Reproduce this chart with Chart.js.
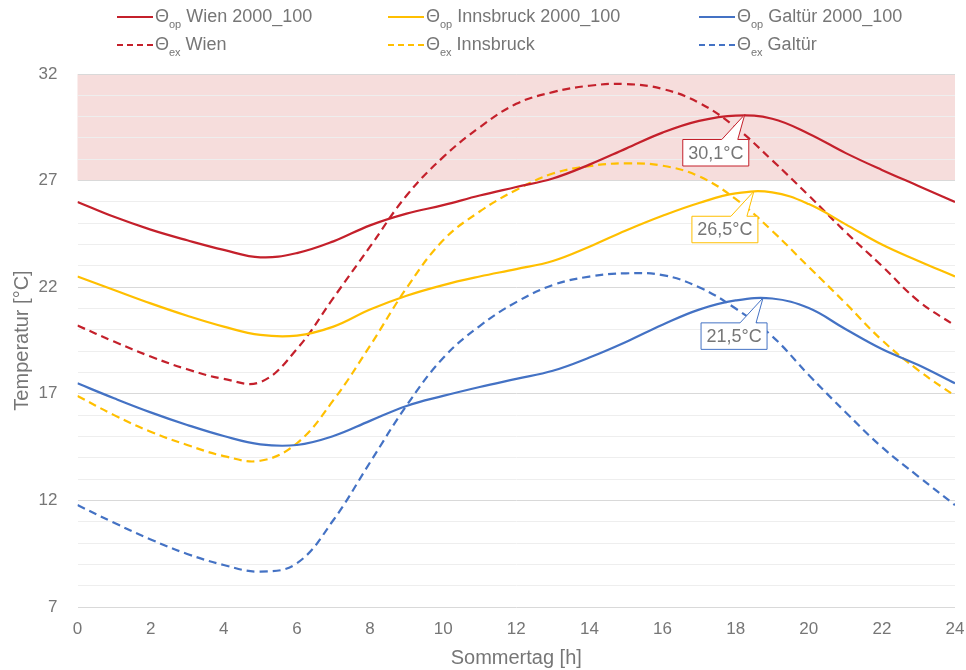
<!DOCTYPE html>
<html>
<head>
<meta charset="utf-8">
<script src="https://cdn.jsdelivr.net/npm/chart.js@4.4.1/dist/chart.umd.min.js"></script>
<style>
  html, body { margin: 0; padding: 0; background: #fff; }
  canvas { display: block; }
</style>
</head>
<body>
<canvas id="chart" width="966" height="670"></canvas>
<script>
// Hourly values (summer day, 0–24 h)
const HOURS = [0, 1, 2, 3, 4, 5, 6, 7, 8, 9, 10, 11, 12, 13, 14, 15, 16, 17, 18, 19, 20, 21, 22, 23, 24];

const WIEN_OP = [26.0, 25.3, 24.7, 24.2, 23.75, 23.4, 23.6, 24.15, 24.9, 25.45, 25.85, 26.3, 26.7, 27.1, 27.75, 28.5, 29.25, 29.8, 30.05, 29.9, 29.2, 28.3, 27.5, 26.75, 26.0];
const INNS_OP = [22.5, 21.87, 21.24, 20.66, 20.15, 19.76, 19.73, 20.15, 20.95, 21.6, 22.1, 22.5, 22.85, 23.23, 23.9, 24.66, 25.35, 25.95, 26.4, 26.45, 25.9, 24.96, 24.0, 23.23, 22.5];
const GALT_OP = [17.49, 16.79, 16.13, 15.54, 15.02, 14.63, 14.6, 15.02, 15.73, 16.43, 16.9, 17.32, 17.7, 18.08, 18.7, 19.43, 20.24, 20.95, 21.38, 21.47, 21.02, 20.04, 19.1, 18.35, 17.49];
const WIEN_EX = [20.2, 19.45, 18.75, 18.15, 17.7, 17.55, 19.1, 21.5, 23.9, 26.3, 28.1, 29.5, 30.6, 31.15, 31.45, 31.53, 31.3, 30.65, 29.5, 27.95, 26.3, 24.6, 23.0, 21.35, 20.2];
const INNS_EX = [16.9, 16.0, 15.22, 14.6, 14.08, 13.86, 14.68, 16.7, 19.25, 21.96, 24.2, 25.55, 26.56, 27.33, 27.68, 27.81, 27.7, 27.2, 26.14, 24.64, 22.95, 21.26, 19.52, 18.1, 16.9];
const GALT_EX = [11.78, 10.95, 10.17, 9.49, 8.97, 8.66, 9.05, 11.08, 13.78, 16.45, 18.68, 20.18, 21.3, 22.1, 22.5, 22.65, 22.57, 22.0, 21.0, 19.7, 17.88, 16.15, 14.5, 13.12, 11.78];

const SERIES_SUB = ['op', 'op', 'op', 'ex', 'ex', 'ex'];
const SERIES_NAME = [' Wien 2000_100', ' Innsbruck 2000_100', ' Galtür 2000_100', ' Wien', ' Innsbruck', ' Galtür'];

const Y_LABELS = [7, 12, 17, 22, 27, 32];
const BAND = [27, 32];

// peak callouts
const CALLOUT_HOUR = [18.25, 18.5, 18.75];
const CALLOUT_VALUE = [30.1, 26.5, 21.5];
const CALLOUT_TEXT = ['30,1°C', '26,5°C', '21,5°C'];

const RED = '#c4202b', YEL = '#ffbf00', BLU = '#4472c4';
const COLORS = [RED, YEL, BLU, RED, YEL, BLU];
const TXT = '#767676';
const FONT = '"Liberation Sans", Arial, sans-serif';

const pts = (arr) => arr.map((v, i) => ({ x: HOURS[i], y: v }));
const ALL = [WIEN_OP, INNS_OP, GALT_OP, WIEN_EX, INNS_EX, GALT_EX];

const datasets = ALL.map((d, i) => ({
  label: 'Θ' + SERIES_SUB[i] + SERIES_NAME[i],
  sub: SERIES_SUB[i],
  name: SERIES_NAME[i],
  data: pts(d),
  borderColor: COLORS[i],
  borderWidth: 2.2,
  borderDash: i >= 3 ? [8, 5] : [],
  pointRadius: 0,
  tension: 0.4,
  fill: false,
}));

// ── pink comfort band under the grid ─────────────────────────────────────────
const bandPlugin = {
  id: 'band',
  beforeDraw(chart) {
    const { ctx, chartArea: a, scales: { y } } = chart;
    const yt = y.getPixelForValue(BAND[1]), yb = y.getPixelForValue(BAND[0]);
    ctx.save();
    ctx.fillStyle = '#f6dddc';
    ctx.fillRect(a.left, yt, a.right - a.left, yb - yt);
    ctx.restore();
  },
};

// ── legend with subscripts ───────────────────────────────────────────────────
const legendPlugin = {
  id: 'subLegend',
  afterDraw(chart) {
    const { ctx } = chart;
    const cols = [117, 388, 699];
    const rows = [17, 45];
    ctx.save();
    chart.data.datasets.forEach((ds, i) => {
      const x = cols[i % 3], y = rows[Math.floor(i / 3)];
      ctx.strokeStyle = ds.borderColor;
      ctx.lineWidth = 2.2;
      ctx.setLineDash(ds.borderDash.length ? [6, 4] : []);
      ctx.beginPath();
      ctx.moveTo(x, y); ctx.lineTo(x + 36, y);
      ctx.stroke();
      ctx.setLineDash([]);
      ctx.fillStyle = TXT;
      ctx.textBaseline = 'middle';
      let tx = x + 38;
      ctx.font = '18px ' + FONT;
      ctx.fillText('Θ', tx, y);
      tx += ctx.measureText('Θ').width;
      ctx.font = '11px ' + FONT;
      ctx.fillText(ds.sub, tx, y + 8);
      tx += ctx.measureText(ds.sub).width;
      ctx.font = '18px ' + FONT;
      ctx.fillText(ds.name, tx, y);
    });
    ctx.restore();
  },
};

// ── callouts at peaks ────────────────────────────────────────────────────────
const calloutPlugin = {
  id: 'callouts',
  afterDatasetsDraw(chart) {
    const { ctx, scales: { x, y } } = chart;
    ctx.save();
    CALLOUT_TEXT.forEach((t, i) => {
      const tx = x.getPixelForValue(CALLOUT_HOUR[i]);
      const ty = y.getPixelForValue(CALLOUT_VALUE[i]);
      const cx = tx - 29, top = ty + 25, w = 66, h = 26.5;
      const l = cx - w / 2, r = cx + w / 2, b = top + h;
      ctx.beginPath();
      ctx.moveTo(l, top);
      ctx.lineTo(cx + 6, top);
      ctx.lineTo(tx, ty);
      ctx.lineTo(cx + 22, top);
      ctx.lineTo(r, top);
      ctx.lineTo(r, b);
      ctx.lineTo(l, b);
      ctx.closePath();
      ctx.fillStyle = '#fff';
      ctx.fill();
      ctx.strokeStyle = COLORS[i];
      ctx.lineWidth = 1;
      ctx.stroke();
      ctx.fillStyle = TXT;
      ctx.font = '18px ' + FONT;
      ctx.textAlign = 'center';
      ctx.textBaseline = 'middle';
      ctx.fillText(t, cx, top + h / 2 + 1);
    });
    ctx.restore();
  },
};

new Chart(document.getElementById('chart'), {
  type: 'line',
  data: { datasets },
  plugins: [bandPlugin, calloutPlugin, legendPlugin],
  options: {
    responsive: false,
    animation: false,
    layout: { padding: { top: 74, right: 0, left: 0, bottom: 0 } },
    plugins: { legend: { display: false }, tooltip: { enabled: false } },
    scales: {
      x: {
        type: 'linear',
        min: 0, max: 24,
        afterFit: (s) => { s.height = 63; s.paddingRight = 11; s.paddingLeft = 0; },
        grid: { display: false, drawTicks: false },
        border: { display: false },
        ticks: { stepSize: 2, padding: 12, color: TXT, font: { family: FONT, size: 17 } },
        title: { display: true, text: 'Sommertag [h]', color: TXT, font: { family: FONT, size: 20 }, padding: { top: 0, bottom: 0 } },
      },
      y: {
        min: 7, max: 32,
        afterFit: (s) => { s.width = 77.5; },
        grid: {
          drawTicks: false,
          color: (c) => (Y_LABELS.includes(c.tick.value) ? '#d9d9d9' : '#eeeeee'),
          lineWidth: 1,
        },
        border: { display: false },
        ticks: {
          stepSize: 1, autoSkip: false, padding: 20, color: TXT,
          font: { family: FONT, size: 17 },
          callback: (v) => (Y_LABELS.includes(v) ? String(v) : ''),
        },
        title: { display: true, text: 'Temperatur [°C]', color: TXT, font: { family: FONT, size: 20 }, padding: { top: 10, bottom: 0 } },
      },
    },
  },
});
</script>
</body>
</html>
